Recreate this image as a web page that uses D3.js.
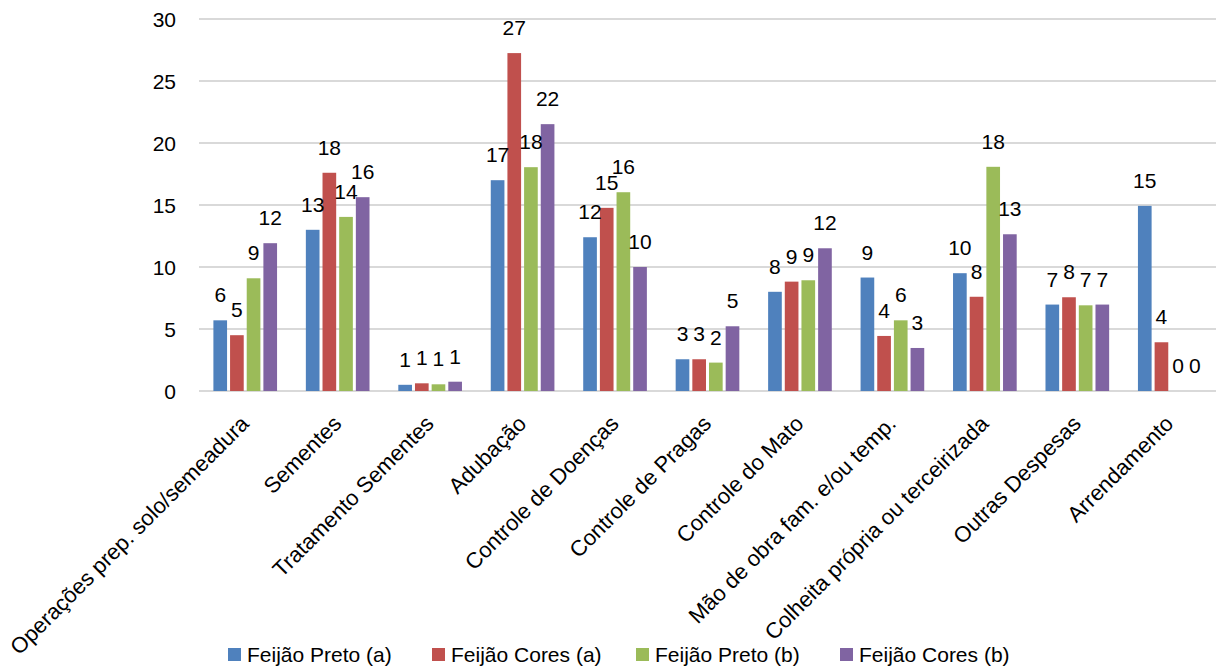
<!DOCTYPE html>
<html>
<head>
<meta charset="utf-8">
<script src="https://cdn.jsdelivr.net/npm/d3@7"></script>
<style>
  html, body { margin: 0; padding: 0; background: #fff; }
  svg { display: block; font-family: "Liberation Sans", Arial, sans-serif; }
</style>
</head>
<body>
<svg id="chart" width="1216" height="668"></svg>
<script>
// Cost categories
const categories = [
  "Operações prep. solo/semeadura",
  "Sementes",
  "Tratamento Sementes",
  "Adubação",
  "Controle de Doenças",
  "Controle de Pragas",
  "Controle do Mato",
  "Mão de obra fam. e/ou temp.",
  "Colheita própria ou terceirizada",
  "Outras Despesas",
  "Arrendamento"
];

// Series names
const seriesNames = ["Feijão Preto (a)", "Feijão Cores (a)", "Feijão Preto (b)", "Feijão Cores (b)"];

// Values per series, in category order
const preto_a = [5.7, 13.0, 0.5, 17.0, 12.4, 2.56, 8.0, 9.15, 9.5, 6.97, 14.93];
const cores_a = [4.5, 17.6, 0.62, 27.25, 14.77, 2.56, 8.82, 4.44, 7.6, 7.56, 3.93];
const preto_b = [9.09, 14.04, 0.54, 18.05, 16.03, 2.29, 8.93, 5.7, 18.08, 6.91, 0];
const cores_b = [11.92, 15.63, 0.75, 21.52, 10.0, 5.22, 11.51, 3.47, 12.64, 6.97, 0];

// Y axis ticks
const yTicks = [0, 5, 10, 15, 20, 25, 30];

const colors = ["#4F81BD", "#C0504D", "#9BBB59", "#8064A2"];
const seriesValues = [preto_a, cores_a, preto_b, cores_b];

const svg = d3.select("#chart");

const plotLeft = 199, plotRight = 1216, plotTop = 19, plotBottom = 391;

const y = d3.scaleLinear().domain([0, 30]).range([plotBottom, plotTop]);

const x0 = d3.scaleBand()
  .domain(categories)
  .range([plotLeft, plotRight])
  .paddingInner(0.279)
  .paddingOuter(0.1395);

const x1 = d3.scaleBand()
  .domain(seriesNames)
  .range([0, x0.bandwidth()]);

// Horizontal gridlines
svg.append("g")
  .selectAll("line")
  .data(yTicks)
  .join("line")
  .attr("x1", plotLeft)
  .attr("x2", plotRight)
  .attr("y1", d => y(d))
  .attr("y2", d => y(d))
  .attr("stroke", "#d9d9d9")
  .attr("stroke-width", 2);

// Y tick labels
const yAxis = d3.axisLeft(y).tickValues(yTicks).tickSize(0).tickPadding(0);
const gy = svg.append("g")
  .attr("transform", `translate(176,0)`)
  .call(yAxis);
gy.select(".domain").remove();
gy.selectAll("text")
  .attr("font-family", "Liberation Sans, Arial, sans-serif")
  .attr("font-size", 21)
  .attr("fill", "#000")
  .attr("dy", "0.35em");

// Rows of data: one per category
const rows = categories.map((c, i) => ({
  category: c,
  values: seriesNames.map((s, k) => ({ series: s, value: seriesValues[k][i], color: colors[k] }))
}));

const groups = svg.append("g")
  .selectAll("g")
  .data(rows)
  .join("g")
  .attr("transform", d => `translate(${x0(d.category)},0)`);

const inset = 1.5;

// Bars
groups.selectAll("rect")
  .data(d => d.values)
  .join("rect")
  .attr("x", d => x1(d.series) + inset)
  .attr("width", x1.bandwidth() - 2 * inset)
  .attr("y", d => y(d.value))
  .attr("height", d => y(0) - y(d.value))
  .attr("fill", d => d.color);

// Value labels (rounded)
groups.selectAll("text.val")
  .data(d => d.values)
  .join("text")
  .attr("class", "val")
  .attr("x", d => x1(d.series) + x1.bandwidth() / 2)
  .attr("y", d => y(d.value) - 18)
  .attr("text-anchor", "middle")
  .attr("font-size", 21)
  .attr("fill", "#000")
  .text(d => Math.round(d.value));

// Rotated category labels
svg.append("g")
  .selectAll("text")
  .data(categories)
  .join("text")
  .attr("transform", d => `translate(${x0(d) + x0.bandwidth() / 2 + 5},425) rotate(-45)`)
  .attr("text-anchor", "end")
  .attr("font-size", 22)
  .attr("fill", "#000")
  .text(d => d);

// Legend
const legend = svg.append("g")
  .selectAll("g")
  .data(seriesNames)
  .join("g")
  .attr("transform", (d, i) => `translate(${228 + i * 204},648)`);

legend.append("rect")
  .attr("width", 13)
  .attr("height", 13)
  .attr("fill", (d, i) => colors[i]);

legend.append("text")
  .attr("x", 19)
  .attr("y", 14)
  .attr("font-size", 21)
  .attr("fill", "#000")
  .text(d => d);
</script>
</body>
</html>
